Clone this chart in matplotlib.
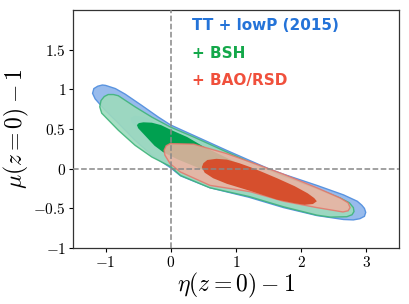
import numpy as np
import matplotlib
matplotlib.use("Agg")
import matplotlib.pyplot as plt

plt.rcParams['mathtext.fontset'] = 'cm'

# contour outlines (eta-1, mu-1)
tt_95_x = [-1.20, -1.18, -1.12, -1.05, -1.00, -0.85, -0.70, -0.45, -0.19, 0.00, 0.35, 0.86, 1.22, 1.50,
           1.73, 2.24, 2.65, 2.86, 2.93, 2.97, 2.99, 2.97, 2.90, 2.80, 2.65, 2.24, 1.73, 1.20, 0.60,
           0.15, 0.00, -0.29, -0.55, -0.80, -1.01, -1.16]
tt_95_y = [0.95, 1.01, 1.04, 1.055, 1.05, 1.01, 0.94, 0.80, 0.65, 0.55, 0.42, 0.23, 0.10, 0.00,
           -0.07, -0.21, -0.33, -0.41, -0.46, -0.50, -0.55, -0.60, -0.63, -0.645, -0.64, -0.59, -0.49, -0.36, -0.24,
           -0.09, 0.01, 0.17, 0.36, 0.57, 0.74, 0.88]

tt_68_x = [-0.62, -0.55, -0.40, -0.20, 0.00, 0.40, 1.00, 1.60, 2.10, 2.30, 2.20, 1.80, 1.20, 0.60,
           0.10, -0.20, -0.45, -0.60]
tt_68_y = [0.64, 0.67, 0.65, 0.59, 0.52, 0.36, 0.15, -0.06, -0.24, -0.35, -0.42, -0.37, -0.22, -0.06,
           0.12, 0.27, 0.45, 0.58]

bsh_95_x = [-1.06, -1.09, -1.07, -1.02, -0.96, -0.88, -0.805, -0.548, -0.29, -0.01, 0.35, 0.86, 1.22,
            1.73, 2.24, 2.60, 2.74, 2.80, 2.81, 2.78, 2.70, 2.45, 2.24, 1.73, 1.20, 0.60, 0.15, -0.01,
            -0.29, -0.548, -0.805]
bsh_95_y = [0.70, 0.78, 0.86, 0.91, 0.935, 0.935, 0.92, 0.78, 0.65, 0.527, 0.40, 0.21, 0.08,
            -0.09, -0.25, -0.37, -0.43, -0.49, -0.54, -0.58, -0.605, -0.61, -0.585, -0.48, -0.35, -0.24, -0.085, 0.03,
            0.147, 0.295, 0.485]

bsh_68_x = [-0.52, -0.49, -0.42, -0.29, -0.15, 0.00, 0.25, 0.50, 1.00, 1.50, 1.70, 1.60, 1.20, 0.60,
            0.10, -0.12, -0.25, -0.42, -0.50]
bsh_68_y = [0.55, 0.575, 0.585, 0.58, 0.55, 0.49, 0.40, 0.28, 0.08, -0.12, -0.22, -0.28, -0.20, -0.05,
            0.12, 0.21, 0.29, 0.44, 0.51]

bao_95_x = [-0.103, -0.07, -0.01, 0.35, 0.86, 1.37, 1.73, 2.24, 2.60, 2.72, 2.75, 2.72, 2.64, 2.24,
            1.73, 1.22, 0.60, 0.143, -0.01, -0.09]
bao_95_y = [0.232, 0.29, 0.316, 0.31, 0.19, 0.04, -0.07, -0.24, -0.37, -0.43, -0.49, -0.53, -0.545, -0.49,
            -0.41, -0.29, -0.21, -0.04, 0.063, 0.17]

bao_68_x = [0.476, 0.50, 0.56, 0.70, 0.86, 1.05, 1.22, 1.40, 1.63, 1.90, 2.10, 2.20, 2.24, 2.18, 2.05,
            1.90, 1.63, 1.22, 0.86, 0.65, 0.52]
bao_68_y = [0.02, 0.07, 0.11, 0.125, 0.115, 0.07, 0.02, -0.04, -0.12, -0.22, -0.31, -0.37, -0.41, -0.445,
            -0.455, -0.435, -0.39, -0.28, -0.19, -0.12, -0.05]

labels = ['TT + lowP (2015)', '+ BSH', '+ BAO/RSD']
label_colors = ['#2473d8', '#14a84a', '#f0503c']

xticks = [-1, 0, 1, 2, 3]
xtick_labels = ['$-1$', '$0$', '$1$', '$2$', '$3$']
yticks = [-1, -0.5, 0, 0.5, 1, 1.5]
ytick_labels = ['$-1$', '$-0.5$', '$0$', '$0.5$', '$1$', '$1.5$']

fig = plt.figure(figsize=(4.09, 3.04), dpi=100)
ax = fig.add_axes([0.1785, 0.184, 0.797, 0.783])

ax.fill(tt_95_x, tt_95_y, facecolor='#98bbec', edgecolor='#5a94e0', lw=1.0, zorder=1)
ax.fill(tt_68_x, tt_68_y, facecolor='#6fb0e8', edgecolor='none', zorder=2)
ax.fill(bsh_95_x, bsh_95_y, facecolor='#9ddbbd', edgecolor='#3fb47a', lw=1.0, alpha=0.9, zorder=3)
ax.fill(bsh_68_x, bsh_68_y, facecolor='#00a050', edgecolor='none', zorder=4)
ax.fill(bao_95_x, bao_95_y, facecolor='#efb2a2', edgecolor='#e6756a', lw=1.0, alpha=0.85, zorder=5)
ax.fill(bao_68_x, bao_68_y, facecolor='#d64f2d', edgecolor='none', zorder=6)

ax.axvline(0, color='#888888', ls='--', lw=1.1, zorder=7)
ax.axhline(0, color='#888888', ls='--', lw=1.1, zorder=7)

ax.set_xlim(-1.5, 3.5)
ax.set_ylim(-1, 2)
ax.set_xticks(xticks)
ax.set_xticklabels(xtick_labels, fontsize=11)
ax.set_yticks(yticks)
ax.set_yticklabels(ytick_labels, fontsize=11)
ax.tick_params(direction='out', length=3, width=0.8, pad=2)
for s in ax.spines.values():
    s.set_color('#333333')
    s.set_linewidth(0.9)

ax.set_xlabel(r'$\eta(z=0)-1$', fontsize=17, labelpad=1)
ax.set_ylabel(r'$\mu(z=0)-1$', fontsize=17, labelpad=2)

for i, (lab, col) in enumerate(zip(labels, label_colors)):
    ax.text(0.32, 1.80 - 0.345 * i, lab, color=col, fontsize=11, fontweight='bold',
            va='center', ha='left', zorder=8)

fig.savefig('out.png', dpi=100)
